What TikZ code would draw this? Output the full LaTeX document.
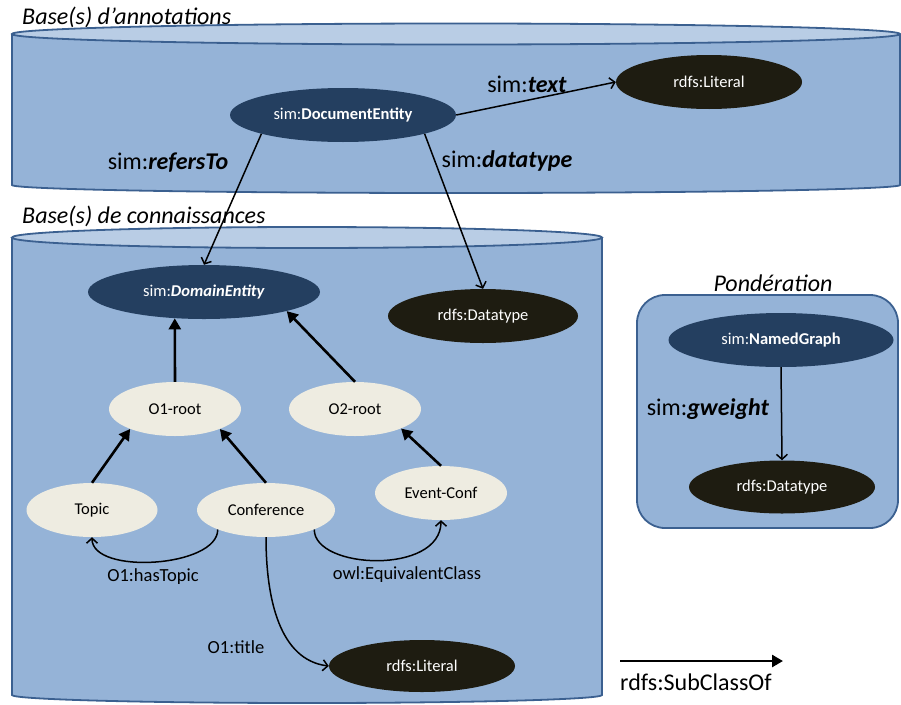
\documentclass[tikz,border=0pt]{standalone}
\usepackage{fontspec}
\setmainfont{Carlito}
\usetikzlibrary{shapes.geometric,arrows.meta}
\definecolor{cylfill}{HTML}{95B3D7}
\definecolor{cyltop}{HTML}{B9CDE5}
\definecolor{cylline}{HTML}{3B6090}
\definecolor{navy}{HTML}{243F60}
\definecolor{blackish}{HTML}{1E1C11}
\definecolor{cream}{HTML}{EEECE1}
\begin{document}
\begin{tikzpicture}[x=1pt,y=-1pt,
  ent/.style={ellipse, inner sep=0pt, minimum height=54pt, font=\fontsize{16.5}{19}\selectfont},
  darknode/.style={ent, fill=navy, text=white},
  blknode/.style={ent, fill=blackish, text=white},
  litenode/.style={ent, fill=cream, text=black},
  subcls/.style={line width=2.6pt, -{Triangle[length=11pt,width=12pt]}},
  prop/.style={line width=1.5pt, -{Straight Barb[length=5pt,width=11pt]}},
  biglabel/.style={font=\fontsize{24}{28}\selectfont, inner sep=0pt},
  titlelabel/.style={font=\fontsize{24}{28}\selectfont\itshape, inner sep=0pt},
  smalllabel/.style={font=\fontsize{18.5}{22}\selectfont, inner sep=0pt},
  cyl/.style={fill=cylfill, draw=cylline, line width=1.8pt},
  cyltopst/.style={fill=cyltop, draw=cylline, line width=1.8pt}
]
\useasboundingbox (0,0) rectangle (901,704);

% ---- Top cylinder: Base(s) d'annotations
\path[cyl] (12,35) -- (12,185) .. controls (12,189.4) and (211,193) .. (456,193)
  .. controls (701,193) and (900,189.4) .. (900,185) -- (900,35) -- cycle;
\path[cyltopst] (456,34) ellipse [x radius=444, y radius=10.5];
\node[titlelabel, anchor=west] (t1) at (22,17) {Base(s) d’annotations};

% ---- Second cylinder: Base(s) de connaissances
\path[cyl] (12,238) -- (12,695) .. controls (12,699.4) and (144,703) .. (307,703)
  .. controls (470,703) and (602,699.4) .. (602,695) -- (602,238) -- cycle;
\path[cyltopst] (307,237.5) ellipse [x radius=295, y radius=10.5];
\node[titlelabel, anchor=west] (t2) at (22,216) {Base(s) de connaissances};

% ---- Pondération box
\draw[cyl, rounded corners=28pt] (637,295) rectangle (898,528);
\node[titlelabel] (t3) at (773,283) {Pondération};

% ---- Nodes
\node[darknode, minimum width=226pt] (de) at (343,115) {sim:\textbf{DocumentEntity}};
\node[blknode, minimum width=186pt] (lit1) at (709,82) {rdfs:Literal};
\node[darknode, minimum width=232pt] (dom) at (204,292) {sim:\textbf{\textit{DomainEntity}}};
\node[blknode, minimum width=190pt] (dt1) at (483,316) {rdfs:Datatype};
\node[litenode, minimum width=132pt] (o1) at (175,409) {O1-root};
\node[litenode, minimum width=132pt] (o2) at (355,409) {O2-root};
\node[litenode, minimum width=131pt] (topic) at (92,510) {Topic};
\node[litenode, minimum width=138pt] (conf) at (266,510) {Conference};
\node[litenode, minimum width=132pt] (ev) at (441,493) {Event-Conf};
\node[blknode, minimum width=186pt, minimum height=52pt] (lit2) at (422,666) {rdfs:Literal};
\node[darknode, minimum width=225pt] (ng) at (781,340) {sim:\textbf{NamedGraph}};
\node[blknode, minimum width=186pt, minimum height=53pt] (dt2) at (782,487) {rdfs:Datatype};

% ---- Properties
\draw[prop] (de.east) -- (lit1.west);
\draw[prop] (de.193) -- (dom.north);
\draw[prop] (de.347) -- (dt1.north);
\draw[prop] (ng.south) -- (dt2.north);
\draw[prop] (conf.202) .. controls +(0,38) and +(0,38) .. (topic.south);
\draw[prop] (conf.338) .. controls +(0,40) and +(0,55) .. (ev.south);
\draw[prop] (conf.south) .. controls (266,600) and (280,660) .. (lit2.west);

% ---- SubClassOf
\draw[subcls] (o1.north) -- (dom.222);
\draw[subcls] (o2.north) -- (dom.347);
\draw[subcls] (topic.north) -- (o1.204);
\draw[subcls] (conf.north) -- (o1.336);
\draw[subcls] (ev.north) -- (o2.337);

% ---- Labels
\node[biglabel] (l1) at (168,163) {sim:\textbf{\textit{refersTo}}};
\node[biglabel] (l2) at (507,161) {sim:\textbf{\textit{datatype}}};
\node[biglabel] (l3) at (527,84) {sim:\textbf{\textit{text}}};
\node[biglabel] (l4) at (708,409) {sim:\textbf{\textit{gweight}}};
\node[smalllabel] (l5) at (153,577) {O1:hasTopic};
\node[smalllabel] (l6) at (407,575) {owl:EquivalentClass};
\node[smalllabel] (l7) at (236,647) {O1:title};

% ---- Legend
\coordinate (lg1) at (620,661);
\coordinate (lg2) at (783,661);
\draw[subcls] (lg1) -- (lg2);
\node[biglabel, anchor=west] (lg) at (620,682) {rdfs:SubClassOf};
\end{tikzpicture}
\end{document}
